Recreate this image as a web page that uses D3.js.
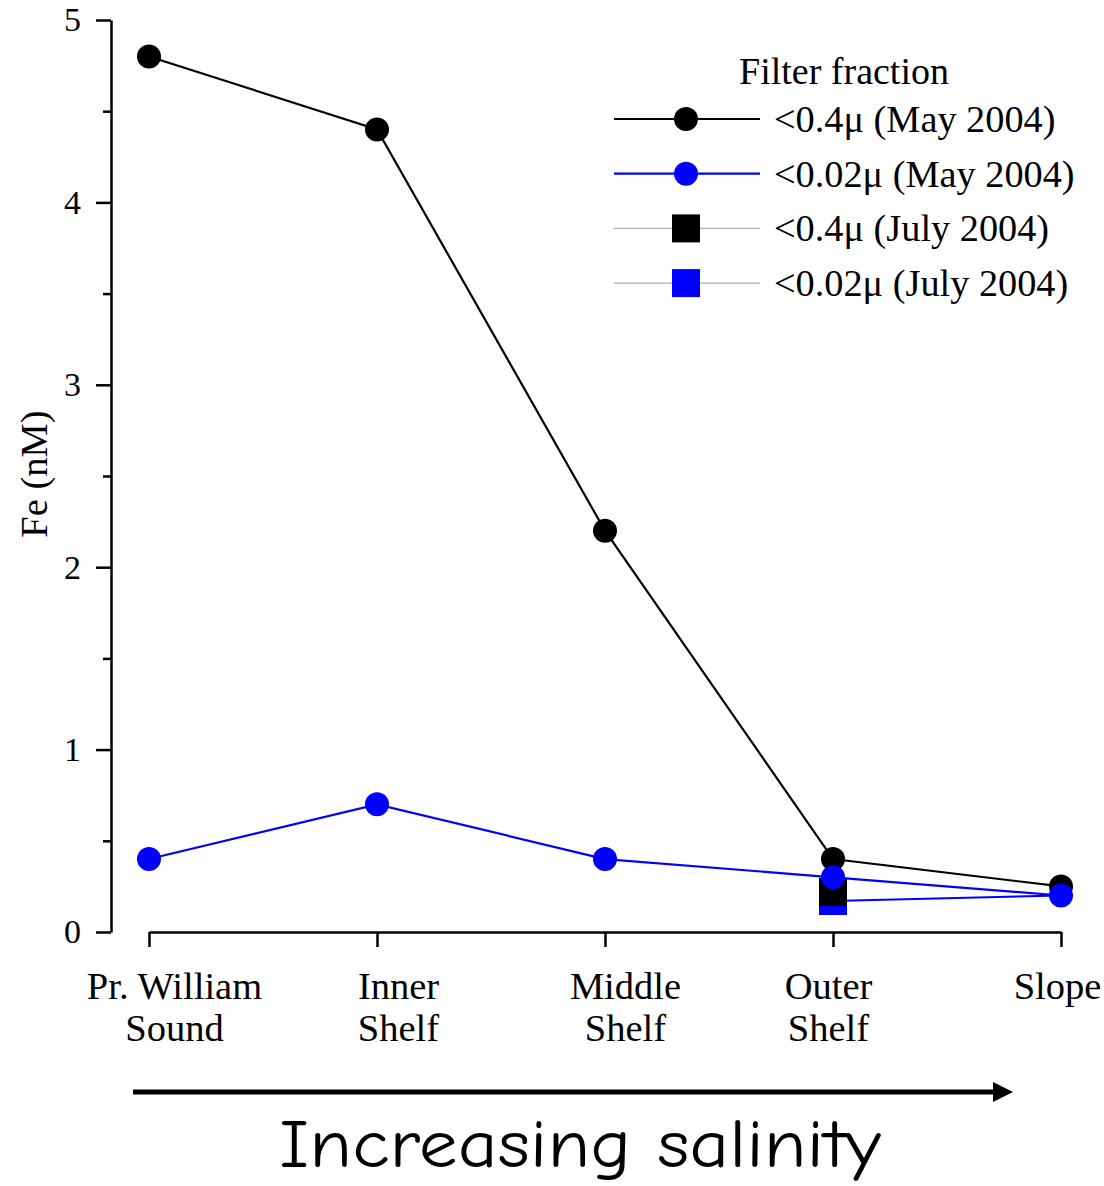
<!DOCTYPE html>
<html><head><meta charset="utf-8">
<script src="https://cdn.jsdelivr.net/npm/d3@7"></script>
<style>body{margin:0;background:#fff}svg{display:block}</style>
</head><body>
<svg id="c" width="1104" height="1186"></svg>
<script>
const categories = ["Pr. William\nSound", "Inner\nShelf", "Middle\nShelf", "Outer\nShelf", "Slope"];
const may04 = [4.8, 4.4, 2.2, 0.4, 0.25];
const may002 = [0.4, 0.7, 0.4, 0.3, 0.2];
const jul04 = [null, null, null, 0.22, null];
const jul002 = [null, null, null, 0.17, 0.2];
const yTicks = [0, 1, 2, 3, 4, 5];
const yMinorTicks = [0.5, 1.5, 2.5, 3.5, 4.5];
const legendLabels = ["<0.4\u03bc (May 2004)", "<0.02\u03bc (May 2004)", "<0.4\u03bc (July 2004)", "<0.02\u03bc (July 2004)"];

const svg = d3.select("#c");
const serif = "'Liberation Serif','Times New Roman',serif";
const x = d3.scalePoint().domain(d3.range(categories.length)).range([149, 1061]);
const y = d3.scaleLinear().domain([0, 5]).range([932, 20]);

// Y axis
const ya = svg.append("g").attr("transform", "translate(111,0)")
  .call(d3.axisLeft(y).tickValues(yTicks).tickSize(15).tickSizeOuter(0).tickPadding(15).tickFormat(d3.format("d")));
ya.select(".domain").attr("stroke-width", 2.5);
ya.selectAll(".tick line").attr("stroke-width", 2.5);
ya.selectAll(".tick text").attr("font-family", serif).attr("font-size", 34).attr("fill", "#000");
svg.append("g").attr("transform", "translate(111,0)")
  .call(d3.axisLeft(y).tickValues(yMinorTicks).tickSize(8).tickSizeOuter(0).tickFormat(""))
  .call(g => g.select(".domain").remove())
  .selectAll(".tick line").attr("stroke-width", 2.5);

// X axis
const xa = svg.append("g").attr("transform", "translate(0,932)")
  .call(d3.axisBottom(x).tickSize(15).tickSizeOuter(0).tickFormat(""));
xa.select(".domain").attr("stroke-width", 2.5);
xa.selectAll(".tick line").attr("stroke-width", 2.5);
const labelDx = [25, 21, 20, -5, -4];
xa.selectAll(".tick").each(function(d, i) {
  const t = d3.select(this).append("text")
    .attr("font-family", serif).attr("font-size", 38.5).attr("fill", "#000")
    .attr("text-anchor", "middle").attr("x", labelDx[i]).attr("y", 67);
  categories[d].split("\n").forEach((line, k) => {
    t.append("tspan").attr("x", labelDx[i]).attr("dy", k === 0 ? 0 : 42).text(line);
  });
});

// Y label
svg.append("text").attr("transform", "translate(47,474) rotate(-90)")
  .attr("text-anchor", "middle").attr("font-family", serif).attr("font-size", 38.5).text("Fe (nM)");

const line = d3.line().defined(d => d[1] != null).x(d => x(d[0])).y(d => y(d[1]));
const pts = arr => arr.map((v, i) => [i, v]);
const lastIdx = categories.length - 1;

// July series (drawn first); its slope end sits under the May markers
function drawSquares(arr, color) {
  svg.append("g").selectAll("rect").data(pts(arr).filter(d => d[1] != null && d[0] !== lastIdx)).join("rect")
    .attr("x", d => x(d[0]) - 14).attr("y", d => y(d[1]) - 14).attr("width", 28).attr("height", 28).attr("fill", color);
}
const jul002Pts = pts(jul002).filter(d => d[1] != null);
svg.append("path").attr("d", line(jul002Pts)).attr("fill", "none").attr("stroke", "#0000ff").attr("stroke-width", 2);
drawSquares(jul002, "#0000ff");
drawSquares(jul04, "#000");

// May series
function drawSeries(arr, color) {
  svg.append("path").attr("d", line(pts(arr))).attr("fill", "none").attr("stroke", color).attr("stroke-width", 2.2);
  svg.append("g").selectAll("circle").data(pts(arr)).join("circle")
    .attr("cx", d => x(d[0])).attr("cy", d => y(d[1])).attr("r", 12).attr("fill", color);
}
drawSeries(may04, "#000");
drawSeries(may002, "#0000ff");

// Legend
const lg = svg.append("g");
lg.append("text").attr("x", 844).attr("y", 84).attr("text-anchor", "middle")
  .attr("font-family", serif).attr("font-size", 38).text("Filter fraction");
const legendStyle = [
  {c: "#000", lc: "#000", lw: 2.2, m: "circle"},
  {c: "#0000ff", lc: "#0000ff", lw: 2.2, m: "circle"},
  {c: "#000", lc: "#b0b0b0", lw: 1.2, m: "square"},
  {c: "#0000ff", lc: "#b0b0b0", lw: 1.2, m: "square"}
];
legendLabels.forEach((lab, i) => {
  const yy = 119 + i * 54.7;
  const s = legendStyle[i];
  lg.append("line").attr("x1", 614).attr("x2", 760).attr("y1", yy).attr("y2", yy).attr("stroke", s.lc).attr("stroke-width", s.lw);
  if (s.m === "circle") lg.append("circle").attr("cx", 686).attr("cy", yy).attr("r", 12).attr("fill", s.c);
  else lg.append("rect").attr("x", 672).attr("y", yy - 14).attr("width", 28).attr("height", 28).attr("fill", s.c);
  lg.append("text").attr("x", 774).attr("y", yy + 13).attr("font-family", serif).attr("font-size", 38.3).text(lab);
});

// Arrow and salinity label
svg.append("line").attr("x1", 133).attr("x2", 996).attr("y1", 1092).attr("y2", 1092).attr("stroke", "#000").attr("stroke-width", 5);
svg.append("path").attr("d", "M993,1082 L1013,1092 L993,1102 Z").attr("fill", "#000");
svg.append("text").attr("x", 580).attr("y", 1167).attr("text-anchor", "middle")
  .attr("font-family", "'Comic Sans MS','Comic Neue','DejaVu Sans',sans-serif").attr("font-size", 68)
  .attr("textLength", 602).attr("lengthAdjust", "spacingAndGlyphs").text("Increasing salinity");
</script>
</body></html>
